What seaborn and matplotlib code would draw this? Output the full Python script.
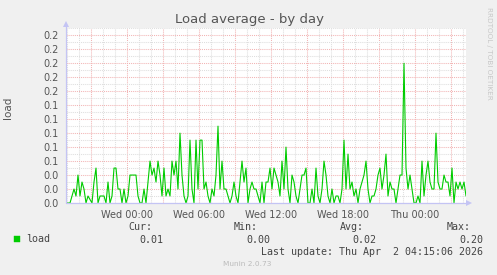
import numpy as np
import pandas as pd
import matplotlib
matplotlib.use("Agg")
import matplotlib.pyplot as plt
import seaborn as sns
from matplotlib.ticker import MultipleLocator, FuncFormatter, FormatStrFormatter
from matplotlib.patches import Rectangle

# ---------------- data ----------------
load_values = [
    0, 0, 0, 0.01, 0.02, 0.01, 0.04, 0.01, 0.03, 0.02,
    0.0, 0.01, 0.005, 0.0, 0.03, 0.05, 0.0, 0.01, 0.01, 0.01,
    0.0, 0.03, 0.0, 0.01, 0.05, 0.05, 0.02, 0.02, 0.0, 0.02,
    0.0, 0.01, 0.04, 0.04,
    0.04, 0.04, 0.01, 0.0, 0.0, 0.02, 0.0, 0.03, 0.06, 0.04,
    0.05, 0.03, 0.06, 0.04, 0.01, 0.05, 0.01, 0.02, 0.01, 0.06,
    0.04, 0.06, 0.02, 0.10, 0.04, 0.01, 0.0, 0.01, 0.09, 0.02,
    0.0, 0.09, 0.02, 0.09,
    0.09, 0.02, 0.03, 0.01, 0.0, 0.02, 0.01, 0.04, 0.11, 0.02,
    0.06, 0.02, 0.02, 0.01, 0.0, 0.01, 0.03, 0.01, 0.0, 0.03,
    0.06, 0.03, 0.05, 0.0, 0.02, 0.03, 0.02, 0.02, 0.01, 0.0,
    0.03, 0.0, 0.03, 0.03,
    0.05, 0.02, 0.05, 0.04, 0.03, 0.01, 0.06, 0.02, 0.08, 0.02,
    0.0, 0.04, 0.03, 0.01, 0.0, 0.02, 0.04, 0.04, 0.05, 0.0,
    0.0, 0.02, 0.0, 0.05, 0.01, 0.0, 0.02, 0.06, 0.04, 0.01,
    0.0, 0.02, 0.0, 0.01,
    0.01, 0.0, 0.02, 0.09, 0.02, 0.07, 0.02, 0.03, 0.01, 0.02,
    0.0, 0.02, 0.03, 0.04, 0.06, 0.02, 0.0, 0.01, 0.01, 0.02,
    0.04, 0.05, 0.02, 0.04, 0.07, 0.01, 0.03, 0.02, 0.02, 0.0,
    0.02, 0.04, 0.04, 0.20,
    0.05, 0.02, 0.04, 0.02, 0.0, 0.0, 0.01, 0.0, 0.06, 0.01,
    0.04, 0.06, 0.03, 0.02, 0.02, 0.10, 0.03, 0.02, 0.02, 0.04,
    0.03, 0.03, 0.01, 0.05, 0.0, 0.03, 0.02, 0.03, 0.02, 0.03,
    0.01,
]
start_time = "2026-03-31 18:55:06"
sample_step = "10min"
day_start = "2026-04-01 00:00:00"
x_tick_labels = {0: "Wed 00:00", 6: "Wed 06:00", 12: "Wed 12:00",
                 18: "Wed 18:00", 24: "Thu 00:00"}
stat_names = ["Cur:", "Min:", "Avg:", "Max:"]
stat_values = ["0.01", "0.00", "0.02", "0.20"]
series_name = "load"
title = "Load average - by day"
last_update = "Last update: Thu Apr  2 04:15:06 2026"
footer = "Munin 2.0.73"
side_text = "RRDTOOL / TOBI OETIKER"

# ---------------- frame ----------------
times = pd.date_range(start_time, periods=len(load_values), freq=sample_step)
hours = np.asarray((times - pd.Timestamp(day_start)) / pd.Timedelta(hours=1))
df = pd.DataFrame({"hours": hours, "load": load_values})

sns.set_style("white")
W, H = 497, 275
BG = "#F0F0F0"
TXT = "#555555"
fig = plt.figure(figsize=(W / 100, H / 100), dpi=100, facecolor=BG)
ax = fig.add_axes([66 / W, (H - 203) / H, 400 / W, 175 / H])
ax.set_facecolor("white")

sns.lineplot(data=df, x="hours", y="load", ax=ax, color="#00CC00",
             linewidth=0.8, zorder=5, legend=False)

ax.set_xlim(hours[0], hours[-1])
ax.set_ylim(0, 0.2505)

# grid
ax.xaxis.set_major_locator(MultipleLocator(3))
ax.xaxis.set_minor_locator(MultipleLocator(1))
ax.yaxis.set_major_locator(MultipleLocator(0.02))
ax.yaxis.set_minor_locator(MultipleLocator(0.01))
ax.set_axisbelow(True)
ax.grid(which="minor", color="#dedede", linestyle=(0, (1, 1)), linewidth=0.75)
ax.grid(which="major", color="#f2b4b4", linestyle=(0, (1, 1)), linewidth=0.75)


def xfmt(v, pos):
    k = int(round(v))
    return x_tick_labels.get(k, "")


ax.xaxis.set_major_formatter(FuncFormatter(xfmt))
ax.yaxis.set_major_formatter(FormatStrFormatter("%.1f"))
ax.tick_params(axis="x", which="major", length=2, color="#f2b4b4",
               labelsize=7, labelcolor=TXT, pad=3)
ax.tick_params(axis="x", which="minor", length=1.5, color="#dedede")
ax.tick_params(axis="y", which="major", length=0, labelsize=7,
               labelcolor=TXT, pad=5)
ax.tick_params(axis="y", which="minor", length=0)
ax.set_xlabel("")
ax.set_ylabel("")

for s in ax.spines.values():
    s.set_visible(False)

AX = "#c4c4f4"
ax.plot([0, 0], [0, 1 + 4 / 175], transform=ax.transAxes, color=AX,
        lw=0.9, clip_on=False, zorder=6)
ax.plot([0], [1 + 4 / 175], transform=ax.transAxes, marker="^", ms=5,
        color=AX, clip_on=False, zorder=6, markeredgewidth=0)
ax.plot([0, 1 + 3 / 400], [0, 0], transform=ax.transAxes, color=AX,
        lw=0.9, clip_on=False, zorder=6)
ax.plot([1 + 3 / 400], [0], transform=ax.transAxes, marker=">", ms=5,
        color=AX, clip_on=False, zorder=6, markeredgewidth=0)


def fx(px):
    return px / W


def fy(py):
    return 1 - py / H


fig.text(fx(250), fy(19), title, ha="center", va="center",
         fontsize=9.5, color=TXT)
fig.text(fx(8), fy(108), series_name, rotation=90, ha="center",
         va="center", fontsize=7.5, color=TXT)
fig.text(fx(489), fy(53), side_text, rotation=270, ha="center",
         va="center", fontsize=5.2, color="#c8c8c8")

mono = "DejaVu Sans Mono"
LEG = "#444444"
fig.add_artist(Rectangle((fx(14), fy(242)), 6 / W, 6 / H,
                         transform=fig.transFigure, facecolor="#00CC00",
                         edgecolor="#00CC00", lw=0.3))
fig.text(fx(26), fy(239.5), series_name, ha="left", va="center",
         fontsize=7.2, family=mono, color=LEG)
name_x = [128, 234, 340, 447]
val_x = [139, 246, 352, 459]
for n, v, nx, vx in zip(stat_names, stat_values, name_x, val_x):
    fig.text(fx(nx), fy(227.5), n, ha="left", va="center", fontsize=7.2,
             family=mono, color=LEG)
    fig.text(fx(vx), fy(240), v, ha="left", va="center", fontsize=7.2,
             family=mono, color=LEG)
fig.text(fx(483), fy(252), last_update, ha="right", va="center",
         fontsize=7.2, family=mono, color=LEG)
fig.text(fx(247), fy(264), footer, ha="center", va="center",
         fontsize=5.3, color="#bbbbbb")

fig.savefig("out.png", dpi=100, facecolor=BG)
